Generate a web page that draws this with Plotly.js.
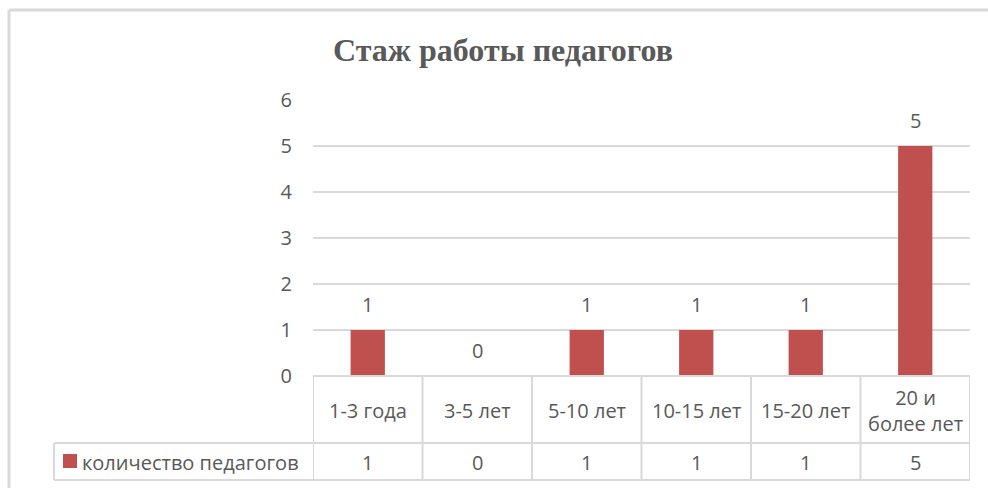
<!DOCTYPE html>
<html>
<head>
<meta charset="utf-8">
<script src="https://cdn.plot.ly/plotly-3.0.1.min.js"></script>
<style>
  html, body { margin: 0; padding: 0; background: #ffffff; }
  #chart { width: 988px; height: 488px; }
</style>
</head>
<body>
<div id="chart"></div>
<script>
// ---- data ----
const chartTitle = 'Стаж работы педагогов';
const categories = ['1-3 года', '3-5 лет', '5-10 лет', '10-15 лет', '15-20 лет', '20 и<br>более лет'];
const values = [1, 0, 1, 1, 1, 5];
const seriesName = 'количество педагогов';
const yTickValues = [0, 1, 2, 3, 4, 5, 6];

// ---- geometry helpers (pixel -> paper) ----
const W = 988, H = 488;
const M = { l: 313, r: 18, t: 100, b: 112 };
const PW = W - M.l - M.r, PH = H - M.t - M.b;
const px = x => (x - M.l) / PW;
const py = y => (H - M.b - y) / PH;

const textColor = '#595959';
const lineColor = '#D9D9D9';
const barColor = '#C0504D';
const font = 'Open Sans, Noto Sans, sans-serif';
const fs = 20;

const trace = {
  type: 'bar',
  x: categories,
  y: values,
  name: seriesName,
  marker: { color: barColor },
  hoverinfo: 'x+y',
  showlegend: false
};

const shapes = [];
const annotations = [];

// data labels above bars
categories.forEach((c, i) => {
  annotations.push({
    x: c, y: values[i], xref: 'x', yref: 'y',
    text: String(values[i]), showarrow: false,
    yanchor: 'bottom', yshift: 10,
    font: { family: font, size: fs, color: textColor }
  });
});

// data table: vertical lines at category boundaries
for (let i = 0; i <= categories.length; i++) {
  shapes.push({
    type: 'line', xref: 'x', yref: 'paper',
    x0: i - 0.5, x1: i - 0.5, y0: 0, y1: py(480),
    line: { color: lineColor, width: 2 }
  });
}
// horizontal table lines
shapes.push({ type: 'line', xref: 'paper', yref: 'paper', x0: px(54), x1: 1, y0: py(443), y1: py(443), line: { color: lineColor, width: 2 } });
shapes.push({ type: 'line', xref: 'paper', yref: 'paper', x0: px(54), x1: 1, y0: py(480), y1: py(480), line: { color: lineColor, width: 2 } });
shapes.push({ type: 'line', xref: 'paper', yref: 'paper', x0: px(54), x1: px(54), y0: py(443), y1: py(480), line: { color: lineColor, width: 2 } });
shapes.push({ type: 'line', xref: 'x', yref: 'paper', x0: -0.5, x1: categories.length - 0.5, y0: 0, y1: 0, line: { color: lineColor, width: 2 } });

// legend key
shapes.push({ type: 'rect', xref: 'paper', yref: 'paper', x0: px(63), x1: px(77), y0: py(468), y1: py(454), line: { width: 0 }, fillcolor: barColor });
annotations.push({
  xref: 'paper', yref: 'paper', x: px(80), y: py(462), xanchor: 'left', yanchor: 'middle',
  text: seriesName, showarrow: false,
  font: { family: font, size: fs, color: textColor }
});

// category header row and values row
categories.forEach((c, i) => {
  annotations.push({
    x: c, xref: 'x', yref: 'paper', y: py(410), yanchor: 'middle',
    text: c, showarrow: false,
    font: { family: font, size: fs, color: textColor }
  });
  annotations.push({
    x: c, xref: 'x', yref: 'paper', y: py(462), yanchor: 'middle',
    text: String(values[i]), showarrow: false,
    font: { family: font, size: fs, color: textColor }
  });
});

// outer chart border (top and left)
shapes.push({ type: 'line', xref: 'paper', yref: 'paper', x0: px(9), x1: px(990), y0: py(10), y1: py(10), line: { color: lineColor, width: 3 } });
shapes.push({ type: 'line', xref: 'paper', yref: 'paper', x0: px(9), x1: px(9), y0: py(10), y1: py(490), line: { color: lineColor, width: 3 } });

const layout = {
  width: W, height: H,
  margin: M,
  paper_bgcolor: '#ffffff',
  plot_bgcolor: '#ffffff',
  title: {
    text: '<b>' + chartTitle + '</b>',
    xref: 'container', yref: 'container',
    x: 503 / W, xanchor: 'center',
    y: 1 - 50 / H, yanchor: 'middle',
    font: { family: 'Liberation Serif, Times New Roman, serif', size: 32, color: textColor }
  },
  bargap: 0.687,
  xaxis: {
    type: 'category',
    range: [-0.5, categories.length - 0.5],
    showticklabels: false, showgrid: false, zeroline: false, showline: false, ticks: ''
  },
  yaxis: {
    range: [0, 6],
    tickvals: yTickValues,
    ticktext: yTickValues.map(String),
    showgrid: true, gridcolor: lineColor, gridwidth: 2,
    zeroline: false, showline: false, ticks: '',
    ticklabelstandoff: 20,
    tickfont: { family: font, size: fs, color: textColor }
  },
  shapes: shapes,
  annotations: annotations,
  showlegend: false
};

Plotly.newPlot('chart', [trace], layout, { displayModeBar: false, staticPlot: false });
</script>
</body>
</html>
